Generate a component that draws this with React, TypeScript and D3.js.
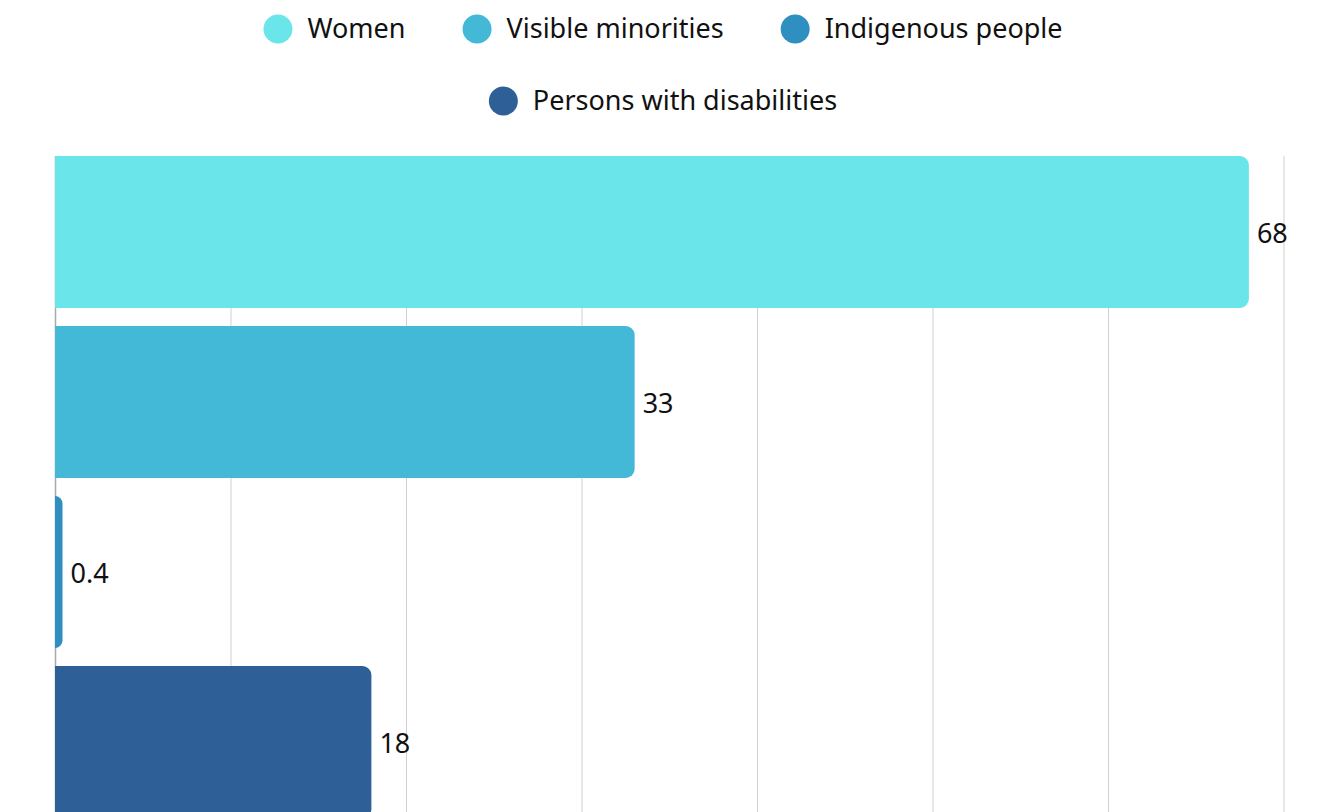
import React, { useEffect, useRef } from "react";
import * as d3 from "d3";

const categories = ["Women", "Visible minorities", "Indigenous people", "Persons with disabilities"];
const values = [68, 33, 0.4, 18];
const colors = ["#6ae6ea", "#43b8d7", "#2e8fc0", "#2e5f96"];
const xTicks = [0, 10, 20, 30, 40, 50, 60, 70];

const W = 1326;
const H = 812;
const FONT = "'Noto Sans', sans-serif";
const FS = 27;

function roundRightRect(x0: number, y0: number, w: number, h: number, r: number) {
  const rr = Math.min(r, w, h / 2);
  const p = d3.path();
  p.moveTo(x0, y0);
  p.lineTo(x0 + w - rr, y0);
  p.arcTo(x0 + w, y0, x0 + w, y0 + rr, rr);
  p.lineTo(x0 + w, y0 + h - rr);
  p.arcTo(x0 + w, y0 + h, x0 + w - rr, y0 + h, rr);
  p.lineTo(x0, y0 + h);
  p.closePath();
  return p.toString();
}

export default function App() {
  const ref = useRef<SVGSVGElement>(null);

  useEffect(() => {
    const svg = d3.select(ref.current);
    svg.selectAll("*").remove();

    const plotTop = 156;
    const x = d3.scaleLinear().domain([0, 70]).range([55.5, 1284]);
    const y = d3
      .scaleBand<string>()
      .domain(categories)
      .range([plotTop, plotTop + 4 * 170 - 18])
      .paddingInner(18 / 170)
      .paddingOuter(0);

    const g = svg.append("g");

    // gridlines
    g.selectAll("line.grid")
      .data(xTicks.slice(1))
      .join("line")
      .attr("class", "grid")
      .attr("x1", (d) => x(d))
      .attr("x2", (d) => x(d))
      .attr("y1", plotTop)
      .attr("y2", H + 20)
      .attr("stroke", "#d0d0d0")
      .attr("stroke-width", 1);

    // axis line
    g.append("line")
      .attr("x1", x(0))
      .attr("x2", x(0))
      .attr("y1", plotTop)
      .attr("y2", H + 20)
      .attr("stroke", "#aaaaaa")
      .attr("stroke-width", 1.5);

    // bars
    g.selectAll("path.bar")
      .data(categories)
      .join("path")
      .attr("class", "bar")
      .attr("fill", (_d, i) => colors[i])
      .attr("d", (d, i) =>
        roundRightRect(x(0) - 0.5, y(d)!, x(values[i]) - x(0) + 0.5, y.bandwidth(), 9)
      );

    // value labels
    g.selectAll("text.val")
      .data(categories)
      .join("text")
      .attr("class", "val")
      .attr("x", (_d, i) => x(values[i]) + 8)
      .attr("y", (d) => y(d)! + y.bandwidth() / 2 + 2)
      .attr("dy", "0.35em")
      .attr("font-family", FONT)
      .attr("font-size", FS)
      .attr("fill", "#111")
      .text((_d, i) => String(values[i]));

    // legend
    const rows = [[0, 1, 2], [3]];
    const rowY = [29, 101];
    const r = 14.5;
    const textGap = 15;
    const itemGap = 57;
    const leg = svg.append("g");
    rows.forEach((row, ri) => {
      const items = row.map((i) => {
        const gi = leg.append("g");
        gi.append("circle").attr("r", r).attr("cx", r).attr("cy", 0).attr("fill", colors[i]);
        const t = gi
          .append("text")
          .attr("x", 2 * r + textGap)
          .attr("y", 0)
          .attr("dy", "0.35em")
          .attr("font-family", FONT)
          .attr("font-size", FS)
          .attr("fill", "#111")
          .text(categories[i]);
        const tw = (t.node() as SVGTextElement).getComputedTextLength();
        return { gi, w: 2 * r + textGap + tw };
      });
      const total = d3.sum(items, (d) => d.w) + itemGap * (items.length - 1);
      let cx = W / 2 - total / 2;
      items.forEach((it) => {
        it.gi.attr("transform", `translate(${cx},${rowY[ri]})`);
        cx += it.w + itemGap;
      });
    });
  }, []);

  return (
    <svg
      ref={ref}
      width={W}
      height={H}
      style={{ position: "absolute", left: 0, top: 0, background: "#fff" }}
    />
  );
}
